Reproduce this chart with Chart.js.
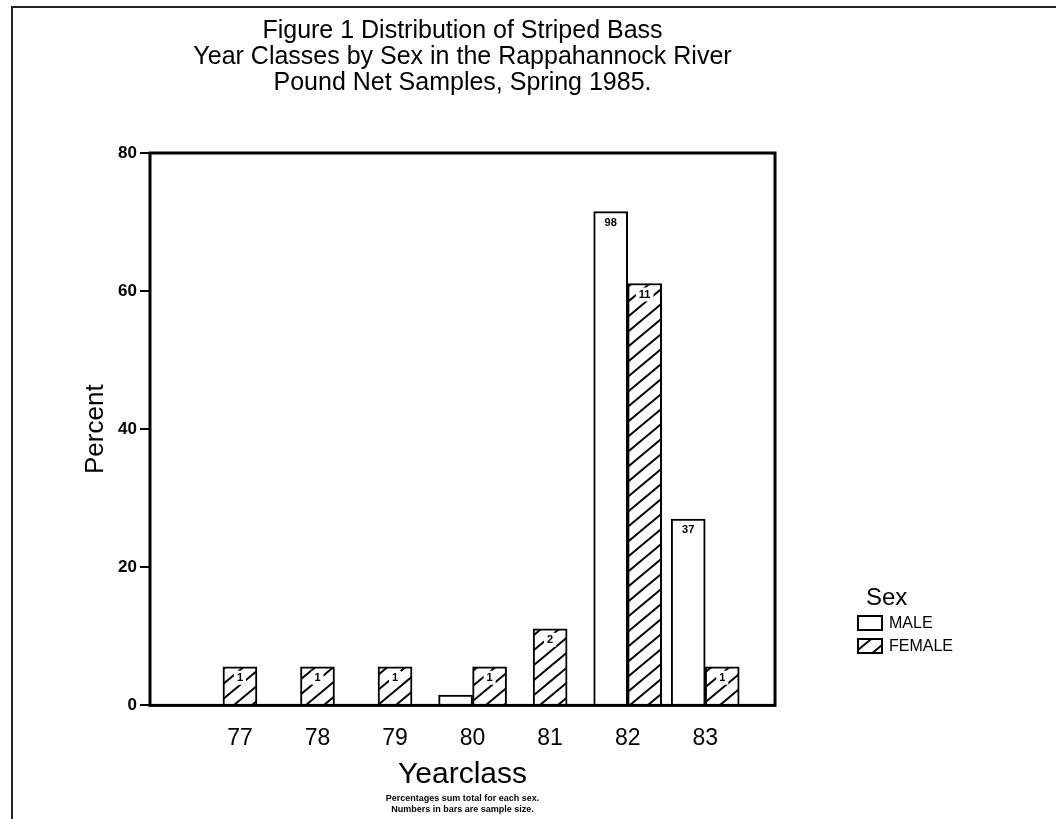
<!DOCTYPE html>
<html>
<head>
<meta charset="utf-8">
<script src="https://cdn.jsdelivr.net/npm/chart.js@4/dist/chart.umd.min.js"></script>
<style>
  html, body { margin: 0; padding: 0; background: #fff; }
  #page { position: relative; width: 1056px; height: 819px; overflow: hidden; }
  #edge { position: absolute; left: 11px; top: 6px; right: 0; bottom: 0; border-top: 2px solid #222; border-left: 2px solid #222; }
  #c { position: absolute; left: 0; top: 0; }
</style>
</head>
<body>
<div id="page">
  <div id="edge"></div>
  <canvas id="c" width="1056" height="819"></canvas>
</div>
<script>
// year classes and percent of each sex
const years = [77, 78, 79, 80, 81, 82, 83];
const malePct = [null, null, null, 1.5, null, 71.5, 27.0];
const femalePct = [5.6, 5.6, 5.6, 5.6, 11.1, 61.1, 5.6];
// sample sizes printed inside the bars
const maleN = [null, null, null, 2, null, 98, 37];
const femaleN = [1, 1, 1, 1, 2, 11, 1];
const yTicks = [0, 20, 40, 60, 80];

const titleLines = [
  "Figure 1 Distribution of Striped Bass",
  "Year Classes by Sex in the Rappahannock River",
  "Pound Net Samples, Spring 1985."
];
const footLines = [
  "Percentages sum total for each sex.",
  "Numbers in bars are sample size."
];

const FONT = "'Liberation Sans', 'DejaVu Sans', sans-serif";
Chart.defaults.font.family = FONT;
Chart.defaults.color = "#000";

// "/" hatching for the female bars
function makeHatch() {
  const W = 18, H = 15;
  const p = document.createElement("canvas");
  p.width = W;
  p.height = H;
  const g = p.getContext("2d");
  g.fillStyle = "#fff";
  g.fillRect(0, 0, W, H);
  g.strokeStyle = "#000";
  g.lineWidth = 2;
  for (const dx of [-W, 0, W]) {
    g.beginPath();
    g.moveTo(dx - W * 0.3, H * 1.3);
    g.lineTo(dx + W * 1.3, -H * 0.3);
    g.stroke();
  }
  return g.createPattern(p, "repeat");
}
const hatch = makeHatch();

function points(vals) {
  return years.map((yr, i) => ({ x: yr, y: vals[i] }));
}

const extras = {
  id: "extras",
  afterDatasetsDraw(chart) {
    const ctx = chart.ctx;
    const a = chart.chartArea;
    ctx.save();
    // sample sizes at the top of each bar
    chart.data.datasets.forEach((ds, di) => {
      chart.getDatasetMeta(di).data.forEach((bar, i) => {
        const n = ds.counts[i];
        if (n == null || bar.base - bar.y < 20) return;
        ctx.font = "bold 11px " + FONT;
        const w = ctx.measureText(String(n)).width + 6;
        ctx.fillStyle = "#fff";
        ctx.fillRect(bar.x - w / 2, bar.y + 4, w, 14);
        ctx.fillStyle = "#000";
        ctx.textAlign = "center";
        ctx.textBaseline = "middle";
        ctx.fillText(String(n), bar.x, bar.y + 11);
      });
    });
    // frame around the plot
    ctx.strokeStyle = "#000";
    ctx.lineWidth = 3;
    ctx.strokeRect(a.left, a.top, a.right - a.left, a.bottom - a.top);
    ctx.restore();
  },
  afterDraw(chart) {
    // legend on the right
    const ctx = chart.ctx;
    const lx = 858, ly = 598;
    ctx.save();
    ctx.fillStyle = "#000";
    ctx.textBaseline = "middle";
    ctx.textAlign = "left";
    ctx.font = "24px " + FONT;
    ctx.fillText("Sex", lx + 8, ly);
    ctx.font = "16px " + FONT;
    chart.data.datasets.forEach((ds, i) => {
      const y = ly + 25 + i * 23;
      ctx.fillStyle = ds.backgroundColor;
      ctx.fillRect(lx, y - 7, 24, 14);
      ctx.strokeStyle = "#000";
      ctx.lineWidth = 2;
      ctx.strokeRect(lx, y - 7, 24, 14);
      ctx.fillStyle = "#000";
      ctx.fillText(ds.label, lx + 31, y + 1);
    });
    ctx.restore();
  }
};

new Chart(document.getElementById("c"), {
  type: "bar",
  data: {
    datasets: [
      {
        label: "MALE",
        data: points(malePct),
        counts: maleN,
        backgroundColor: "#fff",
        borderColor: "#000",
        borderWidth: 2
      },
      {
        label: "FEMALE",
        data: points(femalePct),
        counts: femaleN,
        backgroundColor: hatch,
        borderColor: "#000",
        borderWidth: 2
      }
    ]
  },
  options: {
    responsive: false,
    animation: false,
    skipNull: true,
    barThickness: 34,
    layout: { padding: { left: 0, right: 281, top: 0, bottom: 4 } },
    plugins: {
      legend: { display: false },
      tooltip: { enabled: false },
      title: {
        display: true,
        fullSize: false,
        text: titleLines,
        font: { size: 25, lineHeight: 1.04, weight: "normal" },
        color: "#000",
        padding: { top: 18, bottom: 57 }
      },
      subtitle: {
        display: true,
        position: "bottom",
        fullSize: false,
        text: footLines,
        font: { size: 9, weight: "bold", lineHeight: 1.2 },
        color: "#000",
        padding: 0
      }
    },
    scales: {
      x: {
        type: "linear",
        min: 75.84,
        max: 83.9,
        offset: false,
        afterBuildTicks: (s) => { s.ticks = years.map((v) => ({ value: v })); },
        afterFit: (s) => { s.height = 88; },
        grid: { display: false, drawTicks: false, offset: false },
        border: { display: false },
        ticks: {
          autoSkip: false,
          maxRotation: 0,
          padding: 19,
          font: { size: 23 },
          callback: (v) => String(v)
        },
        title: {
          display: true,
          text: "Yearclass",
          font: { size: 30 },
          padding: { top: 0, bottom: 1 }
        }
      },
      y: {
        min: 0,
        max: 80,
        afterBuildTicks: (s) => { s.ticks = yTicks.map((v) => ({ value: v })); },
        afterFit: (s) => { s.width = 150; },
        grid: { drawOnChartArea: false, color: "#000", lineWidth: 2, tickLength: 10 },
        border: { display: false },
        ticks: { padding: 3, font: { size: 17, weight: "bold" } },
        title: {
          display: true,
          text: "Percent",
          font: { size: 26 },
          padding: { top: 80, bottom: 0 }
        }
      }
    }
  },
  plugins: [extras]
});
</script>
</body>
</html>
